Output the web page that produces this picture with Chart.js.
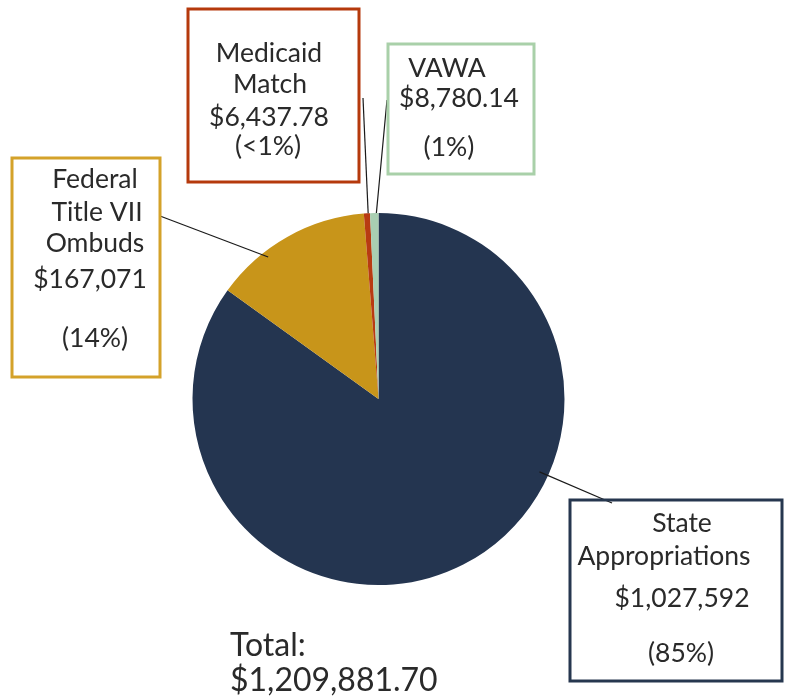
<!DOCTYPE html>
<html>
<head>
<meta charset="utf-8">
<script src="https://cdn.jsdelivr.net/npm/chart.js@4.4.1/dist/chart.umd.min.js"></script>
<style>
  html, body { margin: 0; padding: 0; background: #fff; }
  canvas { display: block; }
</style>
</head>
<body>
<canvas id="chart" width="789" height="698"></canvas>
<script>
// funding sources, clockwise from 12 o'clock
const categories = ['State Appropriations', 'Federal Title VII Ombuds', 'Medicaid Match', 'VAWA']
const amounts = [1027592, 167071, 6437.78, 8780.14]
const amountLabels = ['$1,027,592', '$167,071', '$6,437.78', '$8,780.14']
const percentLabels = ['(85%)', '(14%)', '(<1%)', '(1%)']
const totalLabel = '$1,209,881.70'

const SLICE_COLORS = ['#243550', '#c8951a', '#b83b12', '#a9cfb2']
const BOX_COLORS = ['#26374f', '#d4a22a', '#b5390c', '#a9d0a9']
const FONT = 'Lato, "Open Sans", sans-serif'
const TEXT = '#2a2a2a'

// callout boxes: box rect, text lines (x center, baseline), leader line anchor
const callouts = [
  {
    box: [570, 500, 782, 681],
    lines: [['State', 682, 532], ['Appropriations', 664, 565], [amountLabels[0], 682, 607], [percentLabels[0], 681, 662]],
    from: [612, 503], t: 0.374, rf: 0.95,
  },
  {
    box: [12, 158, 160, 377],
    lines: [['Federal', 95, 188], ['Title VII', 97, 221], ['Ombuds', 95, 252], [amountLabels[1], 90, 288], [percentLabels[1], 95, 347]],
    from: [160, 216], t: 0.33, rf: 0.967,
  },
  {
    box: [188, 9, 359, 182],
    lines: [['Medicaid', 269, 62], ['Match', 270, 93], [amountLabels[2], 269, 126], [percentLabels[2], 268, 155]],
    from: [363, 98], t: 0.7, rf: 1.0,
  },
  {
    box: [388, 44, 534, 174],
    lines: [['VAWA', 447, 77], [amountLabels[3], 459, 107], [percentLabels[3], 449, 156]],
    from: [387, 100], t: 0.75, rf: 1.0,
  },
]

const calloutPlugin = {
  id: 'callouts',
  afterDraw(chart) {
    const ctx = chart.ctx
    const arcs = chart.getDatasetMeta(0).data
    ctx.save()
    callouts.forEach((c, i) => {
      const arc = arcs[i]
      const a = arc.startAngle + c.t * (arc.endAngle - arc.startAngle)
      const r = arc.outerRadius * c.rf
      ctx.strokeStyle = '#1a1a1a'
      ctx.lineWidth = 1.2
      ctx.beginPath()
      ctx.moveTo(c.from[0], c.from[1])
      ctx.lineTo(arc.x + r * Math.cos(a), arc.y + r * Math.sin(a))
      ctx.stroke()

      const [x0, y0, x1, y1] = c.box
      ctx.strokeStyle = BOX_COLORS[i]
      ctx.lineWidth = 3
      ctx.strokeRect(x0, y0, x1 - x0, y1 - y0)

      ctx.fillStyle = TEXT
      ctx.font = '26.5px ' + FONT
      ctx.textAlign = 'center'
      ctx.textBaseline = 'alphabetic'
      c.lines.forEach(([s, x, y]) => ctx.fillText(s, x, y))
    })

    ctx.font = '32px ' + FONT
    ctx.textAlign = 'left'
    ctx.fillStyle = TEXT
    ctx.fillText('Total:', 230, 656)
    ctx.fillText(totalLabel, 230, 691)
    ctx.restore()
  },
}

new Chart(document.getElementById('chart'), {
  type: 'pie',
  data: {
    labels: categories,
    datasets: [{
      data: amounts,
      backgroundColor: SLICE_COLORS,
      borderWidth: 0,
    }],
  },
  options: {
    responsive: false,
    animation: false,
    layout: { padding: { left: 192.5, right: 224.5, top: 213, bottom: 113 } },
    plugins: {
      legend: { display: false },
      tooltip: { enabled: false },
    },
  },
  plugins: [calloutPlugin],
})
</script>
</body>
</html>
